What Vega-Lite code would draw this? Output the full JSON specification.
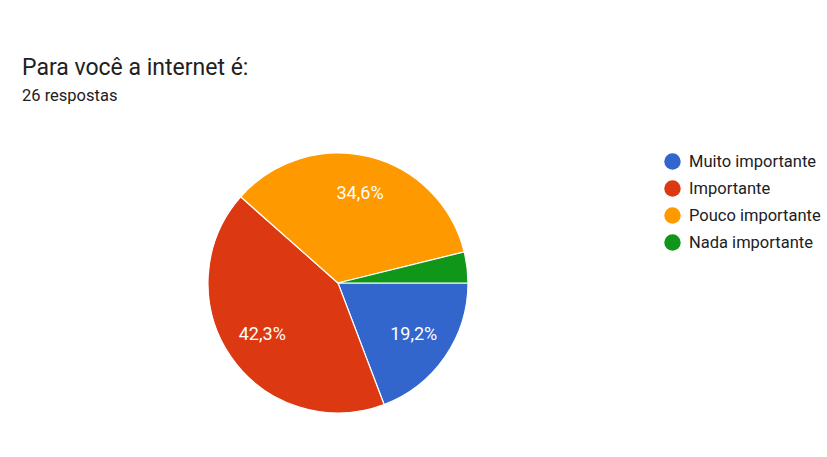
{
  "$schema": "https://vega.github.io/schema/vega-lite/v6.json",
  "width": 260,
  "height": 260,
  "autosize": "none",
  "padding": {"left": 208, "top": 153, "right": 359, "bottom": 44},
  "background": "white",
  "title": {
    "text": "Para você a internet é:",
    "subtitle": "26 respostas",
    "anchor": "start",
    "frame": "group",
    "dx": -186,
    "offset": 46,
    "font": "Roboto",
    "fontSize": 23,
    "fontWeight": "normal",
    "color": "#202124",
    "subtitleFont": "Roboto",
    "subtitleFontSize": 16.5,
    "subtitleColor": "#202124",
    "subtitlePadding": 8
  },
  "data": {
    "values": [
      {"resposta": "Muito importante", "n": 5, "ordem": 1, "rotulo": "19,2%"},
      {"resposta": "Importante", "n": 11, "ordem": 2, "rotulo": "42,3%"},
      {"resposta": "Pouco importante", "n": 9, "ordem": 3, "rotulo": "34,6%"},
      {"resposta": "Nada importante", "n": 1, "ordem": 4, "rotulo": ""}
    ]
  },
  "encoding": {
    "theta": {"field": "n", "type": "quantitative", "stack": true, "scale": {"range": [1.5707963, 7.8539816]}},
    "order": {"field": "ordem", "type": "quantitative"}
  },
  "layer": [
    {
      "mark": {"type": "arc", "radius": 130, "stroke": "white", "strokeWidth": 1.2},
      "encoding": {
        "color": {
          "field": "resposta",
          "type": "nominal",
          "sort": ["Muito importante", "Importante", "Pouco importante", "Nada importante"],
          "scale": {
            "domain": ["Muito importante", "Importante", "Pouco importante", "Nada importante"],
            "range": ["#3366cc", "#dc3912", "#ff9900", "#109618"]
          },
          "legend": {
            "title": null,
            "orient": "none",
            "legendX": 456,
            "legendY": 0,
            "symbolType": "circle",
            "symbolSize": 270,
            "symbolStrokeWidth": 0,
            "labelFont": "Roboto",
            "labelFontSize": 16.5,
            "labelColor": "#202124",
            "labelOffset": 8,
            "rowPadding": 10
          }
        }
      }
    },
    {
      "mark": {"type": "text", "radius": 92, "font": "Roboto", "fontSize": 18, "color": "white"},
      "encoding": {
        "text": {"field": "rotulo", "type": "nominal"}
      }
    }
  ]
}
